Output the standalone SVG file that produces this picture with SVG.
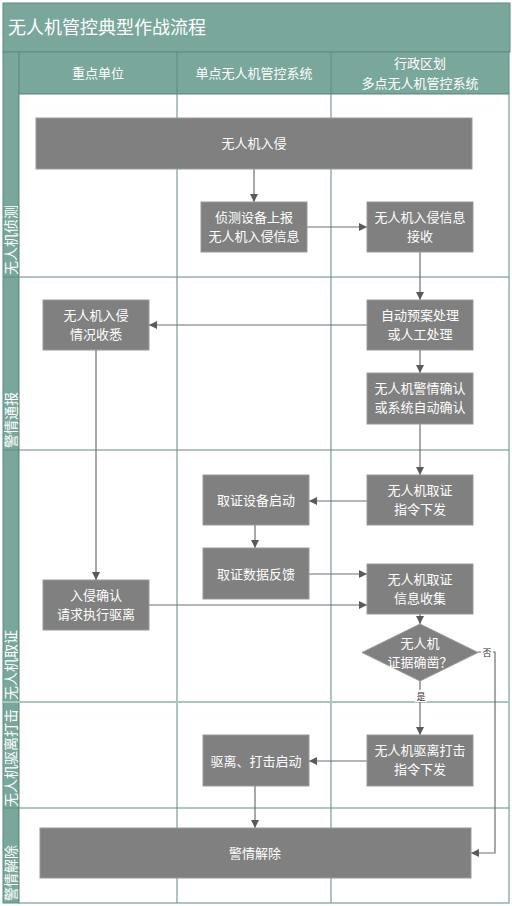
<svg xmlns="http://www.w3.org/2000/svg" width="512" height="906" viewBox="0 0 512 906">
<style>
text{font-family:"Noto Sans CJK SC","Liberation Sans",sans-serif;}
.hd{fill:#79a79b;stroke:#5e8c80;stroke-width:1}
.grid{stroke:#5e8c80;stroke-width:1;fill:none}
.ht{fill:#ffffff;font-size:13px;text-anchor:middle}
.lt{fill:#ffffff;font-size:14px;text-anchor:start}
.nd{fill:#808080;stroke:#9a9a9a;stroke-width:1}
.nt{fill:#ffffff;font-size:13px;text-anchor:middle}
.cn{stroke:#6e6e6e;stroke-width:1.2;fill:none}
.sm{fill:#333333;font-size:9px;text-anchor:middle}
</style>
<defs>
<marker id="ah" viewBox="0 0 10 10" refX="10" refY="5" markerWidth="8" markerHeight="8" markerUnits="userSpaceOnUse" orient="auto">
<path d="M0,0 L10,5 L0,10 z" fill="#5a5a5a"/>
</marker>
</defs>
<rect x="0" y="0" width="512" height="906" fill="#ffffff"/>
<g id="frame">
<rect class="hd" x="3" y="3" width="507" height="49"/>
<text x="8" y="34" fill="#ffffff" style="font-size:18px">无人机管控典型作战流程</text>
<rect class="hd" x="3" y="52" width="16" height="851"/>
<rect class="hd" x="19" y="52" width="490" height="42"/>
<rect x="19" y="94" width="490" height="809" fill="#ffffff" stroke="#5e8c80"/>
<line class="grid" x1="177" y1="52" x2="177" y2="903"/>
<line class="grid" x1="331" y1="52" x2="331" y2="903"/>
<line class="grid" x1="3" y1="277" x2="509" y2="277"/>
<line class="grid" x1="3" y1="450" x2="509" y2="450"/>
<line x1="3" y1="702" x2="509" y2="702" stroke="#a8c8bf" stroke-width="2"/>
<line class="grid" x1="3" y1="808" x2="509" y2="808"/>
<text class="ht" x="98" y="78">重点单位</text>
<text class="ht" x="254" y="78">单点无人机管控系统</text>
<text class="ht" x="420" y="68">行政区划</text>
<text class="ht" x="420" y="88">多点无人机管控系统</text>
<text class="lt" transform="translate(16,275) rotate(-90)">无人机侦测</text>
<text class="lt" transform="translate(16,448) rotate(-90)">警情通报</text>
<text class="lt" transform="translate(16,700) rotate(-90)">无人机取证</text>
<text class="lt" transform="translate(16,807) rotate(-90)">无人机驱离打击</text>
<text class="lt" transform="translate(16,901) rotate(-90)">警情解除</text>
</g>
<g id="connectors">
<path class="cn" d="M254,169 V202" marker-end="url(#ah)"/>
<path class="cn" d="M307,227 H367" marker-end="url(#ah)"/>
<path class="cn" d="M420,252 V300" marker-end="url(#ah)"/>
<path class="cn" d="M367,325 H149" marker-end="url(#ah)"/>
<path class="cn" d="M420,350 V373" marker-end="url(#ah)"/>
<path class="cn" d="M420,424 V475" marker-end="url(#ah)"/>
<path class="cn" d="M96,350 V580" marker-end="url(#ah)"/>
<path class="cn" d="M367,501 H309" marker-end="url(#ah)"/>
<path class="cn" d="M255,525 V548" marker-end="url(#ah)"/>
<path class="cn" d="M309,574 H367" marker-end="url(#ah)"/>
<path class="cn" d="M149,605 H367" marker-end="url(#ah)"/>
<path class="cn" d="M420,614 V624" marker-end="url(#ah)"/>
<path class="cn" d="M420,681 V735" marker-end="url(#ah)"/>
<path class="cn" d="M478,652 H495 V853 H471" marker-end="url(#ah)"/>
<path class="cn" d="M367,761 H309" marker-end="url(#ah)"/>
<path class="cn" d="M255,786 V828" marker-end="url(#ah)"/>
<rect x="481" y="646" width="12" height="12" fill="#ffffff"/>
<text class="sm" x="487" y="656">否</text>
<rect x="415" y="690" width="12" height="12" fill="#ffffff"/>
<text class="sm" x="421" y="700">是</text>
</g>
<g id="n1"><rect class="nd" x="36" y="118" width="436" height="51"/><text class="nt" x="254" y="148">无人机入侵</text></g>
<g id="n2"><rect class="nd" x="201" y="202" width="106" height="50"/><text class="nt" x="254" y="222">侦测设备上报</text><text class="nt" x="254" y="241">无人机入侵信息</text></g>
<g id="n3"><rect class="nd" x="367" y="202" width="106" height="50"/><text class="nt" x="420" y="222">无人机入侵信息</text><text class="nt" x="420" y="241">接收</text></g>
<g id="n4"><rect class="nd" x="43" y="300" width="106" height="50"/><text class="nt" x="96" y="320">无人机入侵</text><text class="nt" x="96" y="339">情况收悉</text></g>
<g id="n5"><rect class="nd" x="367" y="300" width="106" height="50"/><text class="nt" x="420" y="320">自动预案处理</text><text class="nt" x="420" y="339">或人工处理</text></g>
<g id="n6"><rect class="nd" x="367" y="373" width="106" height="51"/><text class="nt" x="420" y="393">无人机警情确认</text><text class="nt" x="420" y="412">或系统自动确认</text></g>
<g id="n7"><rect class="nd" x="367" y="475" width="106" height="50"/><text class="nt" x="420" y="495">无人机取证</text><text class="nt" x="420" y="514">指令下发</text></g>
<g id="n8"><rect class="nd" x="203" y="475" width="106" height="50"/><text class="nt" x="256" y="505">取证设备启动</text></g>
<g id="n9"><rect class="nd" x="203" y="548" width="106" height="51"/><text class="nt" x="256" y="579">取证数据反馈</text></g>
<g id="n10"><rect class="nd" x="367" y="564" width="106" height="50"/><text class="nt" x="420" y="584">无人机取证</text><text class="nt" x="420" y="603">信息收集</text></g>
<g id="n11"><rect class="nd" x="43" y="580" width="106" height="50"/><text class="nt" x="96" y="600">入侵确认</text><text class="nt" x="96" y="619">请求执行驱离</text></g>
<g id="n12"><polygon class="nd" points="420,624 478,652.5 420,681 362,652.5"/><text class="nt" x="420" y="648">无人机</text><text class="nt" x="420" y="667">证据确凿？</text></g>
<g id="n13"><rect class="nd" x="203" y="735" width="106" height="51"/><text class="nt" x="256" y="766">驱离、打击启动</text></g>
<g id="n14"><rect class="nd" x="367" y="735" width="106" height="51"/><text class="nt" x="420" y="755">无人机驱离打击</text><text class="nt" x="420" y="774">指令下发</text></g>
<g id="n15"><rect class="nd" x="40" y="828" width="431" height="50"/><text class="nt" x="255" y="858">警情解除</text></g>
</svg>
